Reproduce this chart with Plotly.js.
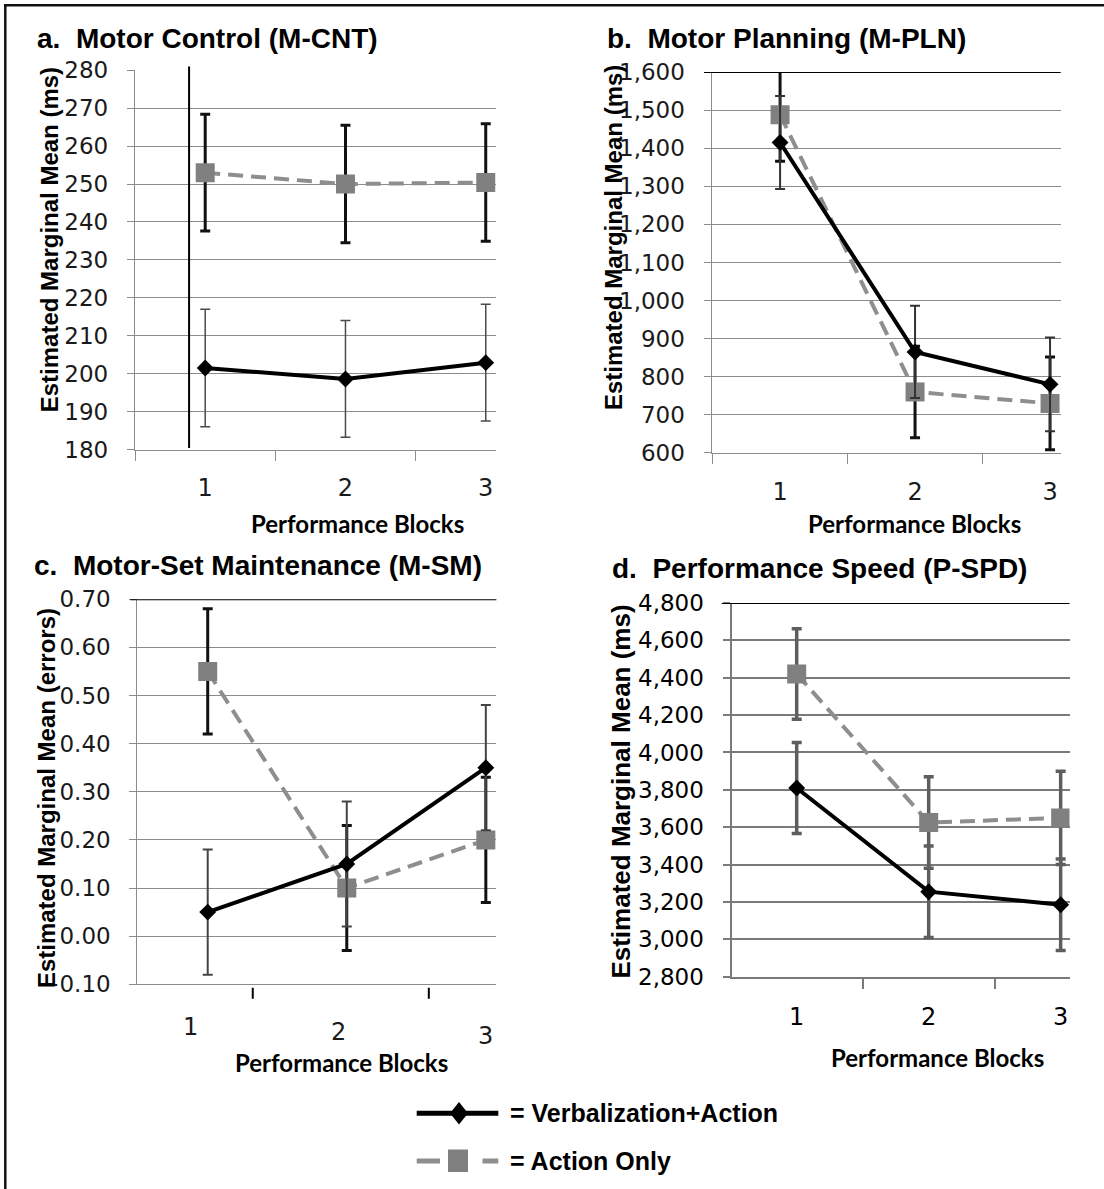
<!DOCTYPE html>
<html><head><meta charset="utf-8">
<script src="https://cdn.plot.ly/plotly-3.0.1.min.js"></script>
<style>html,body{margin:0;padding:0;background:#fff}#chart{width:1104px;height:1189px}</style>
</head><body><div id="chart"></div>
<script>
// ---------- data ----------
const blocks = ['1', '2', '3'];
const blockNums = [1, 2, 3];
const seriesNames = ['Verbalization+Action', 'Action Only'];

// a. Motor Control (ms)
const cntVerbal = [201.5, 198.6, 202.9];
const cntVerbalErr = [15.5, 15.4, 15.4];
const cntAction = [253.0, 250.0, 250.4];
const cntActionErr = [15.4, 15.5, 15.5];

// b. Motor Planning (ms)
const plnVerbal = [1415, 865, 780];
const plnVerbalErr = [122, 121, 123];
const plnAction = [1488, 760, 730];
const plnActionErr = [122, 120, 122];

// c. Motor-Set Maintenance (errors)
const smVerbal = [0.05, 0.15, 0.35];
const smVerbalErr = [0.13, 0.13, 0.13];
const smAction = [0.55, 0.10, 0.20];
const smActionErr = [0.13, 0.13, 0.13];

// d. Performance Speed (ms)
const spdVerbal = [3810, 3255, 3185];
const spdVerbalErr = [243, 245, 245];
const spdAction = [4420, 3625, 3650];
const spdActionErr = [242, 245, 250];

const panelTitles = [
  'a.\u00a0 Motor Control (M-CNT)',
  'b.\u00a0 Motor Planning (M-PLN)',
  'c.\u00a0 Motor-Set Maintenance (M-SM)',
  'd.\u00a0 Performance Speed (P-SPD)'
];
const yTitles = [
  'Estimated Marginal Mean (ms)',
  'Estimated Marginal Mean (ms)',
  'Estimated Marginal Mean (errors)',
  'Estimated Marginal Mean (ms)'
];
const xTitle = 'Performance Blocks';

// ---------- helpers ----------
const W = 1104, H = 1189;
const px = x => x / W;
const py = y => 1 - y / H;
const GRID = '#8c8c8c';
const SQ = '#808080';
const DASHC = '#8e8e8e';

function actionTrace(x, y, err, xa, ya, ecol, ew) {
  return {
    type: 'scatter', mode: 'lines+markers', x: x, y: y, xaxis: xa, yaxis: ya,
    name: seriesNames[1], showlegend: false,
    line: {color: DASHC, width: 4, dash: '15px,8px'},
    marker: {symbol: 'square', size: 19, color: SQ},
    error_y: {type: 'data', array: err, visible: true, color: ecol, thickness: ew, width: 5}
  };
}
function verbalTrace(x, y, err, xa, ya, ecol, ew) {
  return {
    type: 'scatter', mode: 'lines+markers', x: x, y: y, xaxis: xa, yaxis: ya,
    name: seriesNames[0], showlegend: false,
    line: {color: '#000', width: 4},
    marker: {symbol: 'diamond', size: 13, color: '#000'},
    error_y: {type: 'data', array: err, visible: true, color: ecol, thickness: ew, width: 5}
  };
}

const data = [
  actionTrace(blocks, cntAction, cntActionErr, 'x', 'y', '#111', 3),
  verbalTrace(blocks, cntVerbal, cntVerbalErr, 'x', 'y', '#4a4a4a', 1.5),
  actionTrace(blocks, plnAction, plnActionErr, 'x2', 'y2', '#111', 3),
  verbalTrace(blocks, plnVerbal, plnVerbalErr, 'x2', 'y2', '#333', 2),
  actionTrace(blockNums, smAction, smActionErr, 'x3', 'y3', '#111', 3),
  verbalTrace(blockNums, smVerbal, smVerbalErr, 'x3', 'y3', '#444', 2),
  actionTrace(blocks, spdAction, spdActionErr, 'x4', 'y4', '#5e5e5e', 3.5),
  verbalTrace(blocks, spdVerbal, spdVerbalErr, 'x4', 'y4', '#5e5e5e', 3.5)
];

const tickFontY = {family: 'DejaVu Sans', size: 23, color: '#1a1a1a'};
const tickFontX = {family: 'DejaVu Sans', size: 24, color: '#1a1a1a'};

function catX(dom, range, anchor, gcol, lw) {
  return {
    domain: dom, type: 'category', range: range, tickson: 'boundaries',
    ticks: 'outside', ticklen: 10, tickwidth: lw, tickcolor: gcol,
    showline: true, linecolor: gcol, linewidth: lw, showgrid: false, zeroline: false,
    tickfont: tickFontX, ticklabelstandoff: 17, anchor: anchor, fixedrange: true
  };
}
function valY(dom, range, dtick, fmt, anchor, gcol, gw) {
  return {
    domain: dom, range: range, dtick: dtick, tick0: range[0], tickformat: fmt,
    ticks: 'outside', ticklen: 7, tickwidth: gw, tickcolor: gcol,
    showline: true, linecolor: gcol, linewidth: gw, gridcolor: gcol, gridwidth: gw,
    zeroline: false, tickfont: tickFontY, ticklabelstandoff: 14, anchor: anchor, fixedrange: true
  };
}

const layout = {
  width: W, height: H, margin: {l: 0, r: 0, t: 0, b: 0},
  paper_bgcolor: '#fff', plot_bgcolor: 'rgba(0,0,0,0)', showlegend: false,
  font: {family: 'Liberation Sans, Arial, sans-serif', color: '#000'},
  xaxis: catX([px(134.8), px(496.4)], [-0.502, 2.076], 'y', GRID, 1),
  yaxis: valY([py(449.5), py(70.3)], [180, 280], 10, 'd', 'x', GRID, 1),
  xaxis2: catX([px(711.5), px(1060.7)], [-0.508, 2.079], 'y2', GRID, 1),
  yaxis2: valY([py(452.9), py(72)], [600, 1600], 100, ',d', 'x2', GRID, 1),
  xaxis3: {
    domain: [px(137.3), px(496.4)], type: 'linear', range: [0.4937, 3.076],
    showticklabels: false, ticks: '', showline: true, linecolor: GRID, linewidth: 1,
    showgrid: false, zeroline: false, anchor: 'y3', fixedrange: true
  },
  yaxis3: valY([py(984.3), py(599.2)], [-0.10, 0.70], 0.10, '.2f', 'x3', GRID, 1),
  xaxis4: catX([px(731.5), px(1069.5)], [-0.494, 2.067], 'y4', '#7a7a7a', 2),
  yaxis4: valY([py(976.7), py(603)], [2800, 4800], 200, ',d', 'x4', '#7a7a7a', 2),
  annotations: [],
  shapes: []
};
layout.xaxis4.tickfont = {family: 'DejaVu Sans', size: 24, color: '#000'};
layout.yaxis4.tickfont = {family: 'DejaVu Sans', size: 23, color: '#000'};

const ann = layout.annotations;
// panel titles
const titlePos = [[35.2, 38], [604.8, 38], [31.7, 565], [610.1, 568.4]];
panelTitles.forEach((t, i) => ann.push({
  text: '<b>' + t + '</b>', xref: 'paper', yref: 'paper',
  x: px(titlePos[i][0]), y: py(titlePos[i][1]), xanchor: 'left', yanchor: 'middle',
  showarrow: false, font: {family: 'Liberation Sans', size: 28, color: '#000'}
}));
// y-axis titles
const yTitlePos = [[49.3, 240, 24], [613.6, 237.5, 24], [45.8, 798.3, 24], [620.6, 792, 26]];
yTitles.forEach((t, i) => ann.push({
  text: '<b>' + t + '</b>', xref: 'paper', yref: 'paper', textangle: -90,
  x: px(yTitlePos[i][0]), y: py(yTitlePos[i][1]), xanchor: 'center', yanchor: 'middle',
  showarrow: false, font: {family: 'Liberation Sans', size: yTitlePos[i][2], color: '#000'}
}));
// x-axis titles
const xTitlePos = [[357.5, 523.3], [914.6, 523.3], [341.5, 1062], [937.5, 1057]];
xTitlePos.forEach(p => ann.push({
  text: '<b>' + xTitle + '</b>', xref: 'paper', yref: 'paper',
  x: px(p[0]), y: py(p[1]), xanchor: 'center', yanchor: 'middle',
  showarrow: false, font: {family: 'Lato', size: 24, color: '#000'}
}));
// panel c tick labels (offset from the marks as in the original)
const cLabelX = [0.873, 1.942, 3.0];
const cLabelY = [1027, 1032, 1036];
blocks.forEach((b, i) => ann.push({
  text: b, xref: 'x3', yref: 'paper', x: cLabelX[i], y: py(cLabelY[i]),
  xanchor: 'center', yanchor: 'middle', showarrow: false, font: tickFontX
}));
// legend text
ann.push({text: '<b>= ' + seriesNames[0] + '</b>', xref: 'paper', yref: 'paper',
  x: px(508), y: py(1113), xanchor: 'left', yanchor: 'middle', showarrow: false,
  font: {family: 'Liberation Sans', size: 25, color: '#000'}});
ann.push({text: '<b>= ' + seriesNames[1] + '</b>', xref: 'paper', yref: 'paper',
  x: px(508), y: py(1161), xanchor: 'left', yanchor: 'middle', showarrow: false,
  font: {family: 'Liberation Sans', size: 25, color: '#000'}});

const shp = layout.shapes;
// black top lines (b, c, d)
shp.push({type: 'line', xref: 'paper', yref: 'y2', x0: px(704), x1: px(1060.7), y0: 1600, y1: 1600, line: {color: '#000', width: 2}});
shp.push({type: 'line', xref: 'paper', yref: 'y3', x0: px(130.3), x1: px(496.4), y0: 0.70, y1: 0.70, line: {color: '#000', width: 2}});
shp.push({type: 'line', xref: 'paper', yref: 'y4', x0: px(721.7), x1: px(1069.5), y0: 4800, y1: 4800, line: {color: '#000', width: 2}});
// stray vertical rule in panel a
shp.push({type: 'line', xref: 'x', yref: 'paper', x0: -0.115, x1: -0.115, y0: py(447.9), y1: py(66.6), line: {color: '#000', width: 2}});
// panel c tick marks
[1.324, 2.590].forEach(v => shp.push({type: 'line', xref: 'x3', yref: 'paper', x0: v, x1: v, y0: py(987.7), y1: py(998.7), line: {color: '#000', width: 2}}));
// legend glyphs
shp.push({type: 'line', xref: 'paper', yref: 'paper', x0: px(416.7), x1: px(498.3), y0: py(1113.3), y1: py(1113.3), line: {color: '#000', width: 5}});
shp.push({type: 'path', xref: 'paper', yref: 'paper',
  path: 'M' + px(459) + ',' + py(1102) + ' L' + px(468) + ',' + py(1113.3) + ' L' + px(459) + ',' + py(1124.6) + ' L' + px(450) + ',' + py(1113.3) + ' Z',
  fillcolor: '#000', line: {width: 0}});
shp.push({type: 'line', xref: 'paper', yref: 'paper', x0: px(416.7), x1: px(440), y0: py(1161), y1: py(1161), line: {color: DASHC, width: 5}});
shp.push({type: 'rect', xref: 'paper', yref: 'paper', x0: px(448), x1: px(468), y0: py(1172), y1: py(1149.5), fillcolor: SQ, line: {width: 0}});
shp.push({type: 'line', xref: 'paper', yref: 'paper', x0: px(482.5), x1: px(498.3), y0: py(1161), y1: py(1161), line: {color: DASHC, width: 5}});
// outer frame (top and left edges)
shp.push({type: 'line', xref: 'paper', yref: 'paper', x0: px(4), x1: 1, y0: py(5.3), y1: py(5.3), line: {color: '#111', width: 2.5}});
shp.push({type: 'line', xref: 'paper', yref: 'paper', x0: px(5.3), x1: px(5.3), y0: 0, y1: py(4), line: {color: '#111', width: 2.5}});

Plotly.newPlot('chart', data, layout, {displayModeBar: false, staticPlot: true});
</script>
</body></html>
